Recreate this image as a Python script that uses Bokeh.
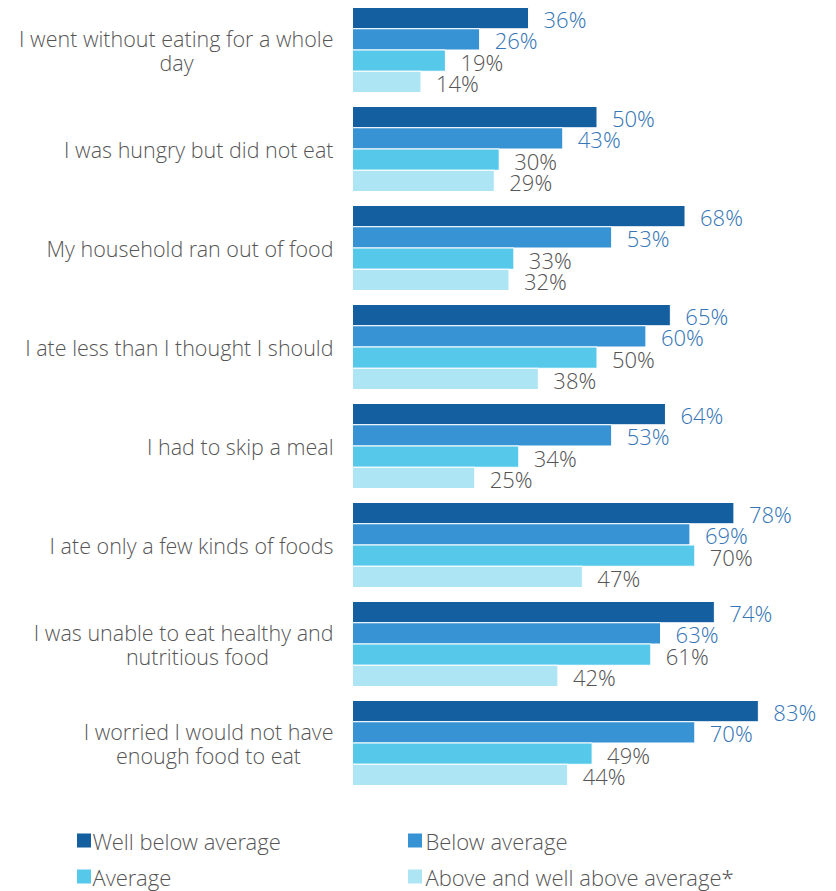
from bokeh.plotting import figure
from bokeh.models import ColumnDataSource, Range1d
from bokeh.core.properties import value
from bokeh.embed import file_html
from bokeh.resources import INLINE

# ---- data ----
categories = [
    ["I went without eating for a whole", "day"],
    ["I was hungry but did not eat"],
    ["My household ran out of food"],
    ["I ate less than I thought I should"],
    ["I had to skip a meal"],
    ["I ate only a few kinds of foods"],
    ["I was unable to eat healthy and", "nutritious food"],
    ["I worried I would not have", "enough food to eat"],
]
series_names = ["Well below average", "Below average", "Average",
                "Above and well above average*"]
well_below = [36, 50, 68, 65, 64, 78, 74, 83]
below = [26, 43, 53, 60, 53, 69, 63, 70]
average = [19, 30, 33, 50, 34, 70, 61, 49]
above = [14, 29, 32, 38, 25, 47, 42, 44]
series_values = [well_below, below, average, above]

bar_colors = ["#135f9f", "#3793d4", "#56c9eb", "#aee5f5"]
label_colors = ["#3676b6", "#3676b6", "#555555", "#555555"]
TEXT = "#555555"
FONT = value("Open Sans Light, Open Sans")

# ---- layout ----
W, H = 836, 891
PX_PER_UNIT = 4.89
AXIS_X = 352  # figure px of zero line
x0 = -AXIS_X / PX_PER_UNIT
x1 = (W - AXIS_X) / PX_PER_UNIT
PITCH = 99.0
FIRST_CENTER = 49.5  # figure px
y_top = -FIRST_CENTER / PITCH
y_bot = (H - FIRST_CENTER) / PITCH
bar_h = 21.25 / PITCH


def px_x(px):
    return (px - AXIS_X) / PX_PER_UNIT


def px_y(py):
    return (py - FIRST_CENTER) / PITCH


p = figure(width=W, height=H, output_backend="svg", toolbar_location=None,
           x_range=Range1d(x0, x1), y_range=Range1d(y_bot, y_top),
           min_border=0, min_border_left=0, min_border_right=0,
           min_border_top=0, min_border_bottom=0)
p.axis.visible = False
p.grid.visible = False
p.outline_line_color = None
p.background_fill_color = "white"

n = len(categories)
offsets = [-1.5, -0.5, 0.5, 1.5]
for k, (vals, name) in enumerate(zip(series_values, series_names)):
    ys = [i + offsets[k] * bar_h for i in range(n)]
    src = ColumnDataSource(dict(y=ys, v=vals, lab=[f"{v}%" for v in vals]))
    p.hbar(y="y", right="v", left=0, height=bar_h, source=src,
           fill_color=bar_colors[k], line_color="white", line_width=1)
    p.text(x="v", y="y", text="lab", source=src, x_offset=15, y_offset=1,
           text_font=FONT, text_font_size="22px",
           text_color=label_colors[k], text_baseline="middle",
           text_align="left")

# category labels
CAT_SIZE = "21.5px"
LABEL_RIGHT = px_x(333)
second_centers = {0: 176, 6: 197, 7: 208}  # px centre of second line
for i, lines in enumerate(categories):
    if len(lines) == 1:
        p.text(x=[LABEL_RIGHT], y=[i], text=[lines[0]],
               text_font=FONT, text_font_size=CAT_SIZE,
               text_color=TEXT, text_baseline="middle", text_align="right")
    else:
        p.text(x=[LABEL_RIGHT], y=[i - 12 / PITCH], text=[lines[0]],
               text_font=FONT, text_font_size=CAT_SIZE,
               text_color=TEXT, text_baseline="middle", text_align="right")
        p.text(x=[px_x(second_centers[i])], y=[i + 12 / PITCH], text=[lines[1]],
               text_font=FONT, text_font_size=CAT_SIZE,
               text_color=TEXT, text_baseline="middle", text_align="center")

# legend (2x2)
leg_sq_x = [px_x(83.5), px_x(414.5)]
leg_tx_x = [px_x(92), px_x(425)]
leg_y = [px_y(840), px_y(876)]
for k, name in enumerate(series_names):
    r, c = divmod(k, 2)
    p.scatter(x=[leg_sq_x[c]], y=[leg_y[r]], marker="square", size=14,
              fill_color=bar_colors[k], line_color=None)
    p.text(x=[leg_tx_x[c]], y=[leg_y[r]], text=[name],
           text_font=FONT, text_font_size="22px", text_color=TEXT,
           text_baseline="middle", text_align="left")

open("out.html", "w").write(file_html(p, INLINE))
